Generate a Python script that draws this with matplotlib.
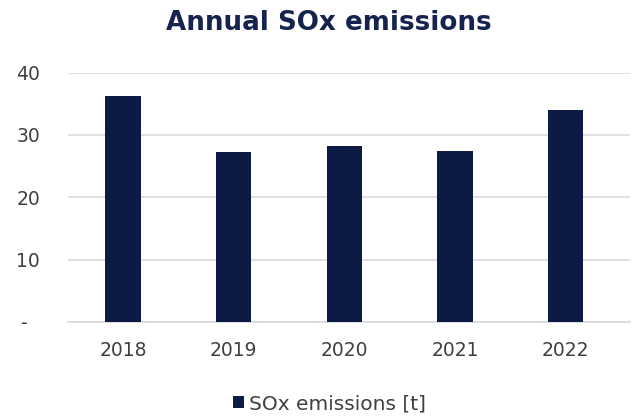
import matplotlib
matplotlib.use("Agg")
import matplotlib.pyplot as plt
from matplotlib.patches import Patch

years = ["2018", "2019", "2020", "2021", "2022"]
sox_emissions = [36.3, 27.3, 28.2, 27.5, 34.0]
y_ticks = [0, 10, 20, 30, 40]
y_tick_labels = ["-  ", "10", "20", "30", "40"]

bar_color = "#0c1a45"
title_color = "#17234f"
text_color = "#404040"
grid_color = "#d9d9d9"

plt.rcParams["font.family"] = ["DejaVu Sans"]

fig = plt.figure(figsize=(6.33, 4.19), dpi=100)
ax = fig.add_axes([0.107, 0.232, 0.888, 0.5945])

x = range(len(years))
ax.bar(x, sox_emissions, width=0.32, color=bar_color, zorder=3)

ax.set_ylim(0, 40)
ax.set_xlim(-0.5, 4.58)
ax.set_yticks(y_ticks)
ax.set_yticklabels(y_tick_labels)
ax.set_xticks(list(x))
ax.set_xticklabels(years)

ax.grid(axis="y", color=grid_color, linewidth=1.2, zorder=0)
for side in ["top", "right", "left"]:
    ax.spines[side].set_visible(False)
ax.spines["bottom"].set_color(grid_color)
ax.spines["bottom"].set_linewidth(1.2)

ax.tick_params(axis="y", length=0, pad=20, labelsize=13.5, labelcolor=text_color)
ax.tick_params(axis="x", length=0, pad=14, labelsize=13.5, labelcolor=text_color)

fig.text(0.519, 0.946, "Annual SOx emissions", ha="center", va="center",
         fontsize=18.8, fontweight="bold", color=title_color)

handle = Patch(facecolor=bar_color, edgecolor="none")
fig.legend([handle], ["SOx emissions [t]"], loc="center", bbox_to_anchor=(0.52, 0.036),
           frameon=False, fontsize=14.5, labelcolor=text_color,
           handlelength=0.55, handleheight=0.55, handletextpad=0.25)

fig.savefig("out.png", dpi=100)
